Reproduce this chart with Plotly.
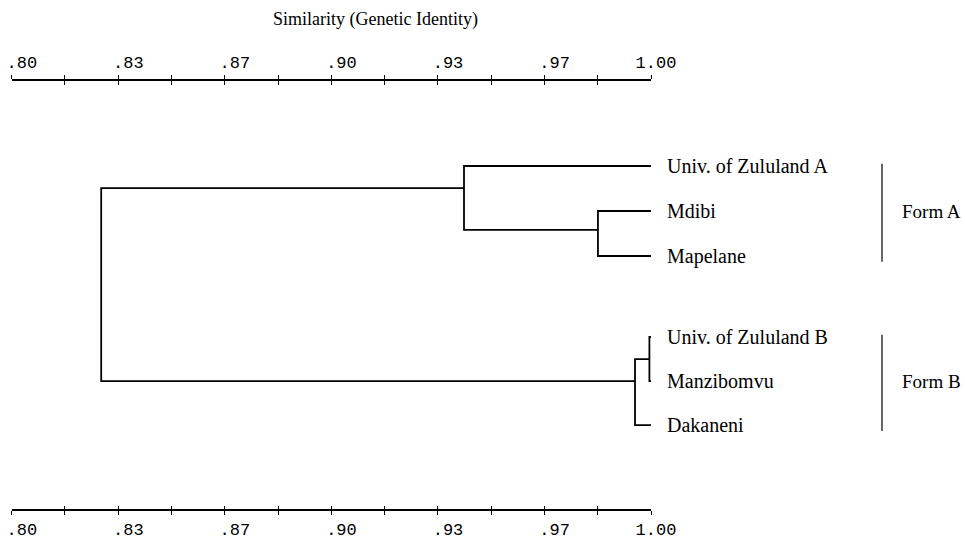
import plotly.graph_objects as go

# ---------------- data ----------------
leaf_names = ["Univ. of Zululand A", "Mdibi", "Mapelane",
              "Univ. of Zululand B", "Manzibomvu", "Dakaneni"]
leaf_rows = [0.0, 1.0, 2.0, 3.8, 4.78, 5.76]      # vertical order of leaves
leaf_sim = 1.00

# merges: (child1, child2, similarity, row where the branch joins its parent)
# children: ints < 6 are leaves, "nK" refers to merge K
merges = [
    (1, 2, 0.9834, 1.42),          # n0 Mdibi + Mapelane
    (0, "n0", 0.9415, 0.49),       # n1 Form A
    (3, 4, 0.9995, 4.29),          # n2 Univ B + Manzibomvu
    ("n2", 5, 0.9950, 4.78),       # n3 Form B
    ("n1", "n3", 0.8280, 3.0),     # n4 root
]

groups = ["Form A", "Form B"]
group_members = [[0, 1, 2], [3, 4, 5]]

tick_vals = [0.80 + i / 60 for i in range(13)]
tick_labels = [".80", "", ".83", "", ".87", "", ".90", "", ".93", "", ".97", "", "1.00"]
axis_title = "Similarity (Genetic Identity)"

# ---------------- figure ----------------
W, H = 965, 539
px0, px1 = 11.7, 651.0          # pixel positions of .80 and 1.00
row_px0, row_step = 166.0, 45.0  # pixel of row 0, pixels per row


def pos(c):
    if isinstance(c, int):
        return leaf_sim, leaf_rows[c]
    k = int(c[1:])
    return merges[k][2], merges[k][3]


fig = go.Figure()
for c1, c2, s, _ in merges:
    x1, y1 = pos(c1)
    x2, y2 = pos(c2)
    fig.add_trace(go.Scatter(
        x=[x1, s, s, x2], y=[y1, y1, y2, y2], mode="lines",
        line=dict(color="black", width=1.8), hoverinfo="skip", showlegend=False,
        xaxis="x", yaxis="y"))

# invisible traces so overlay axes get drawn
for ax in ["x2", "x3", "x4"]:
    fig.add_trace(go.Scatter(x=[0.80, 1.00], y=[None, None], mode="lines",
                             xaxis=ax, yaxis="y", showlegend=False, hoverinfo="skip"))

serif = "Liberation Serif"
mono = "Liberation Mono"

ann = []
for name, r in zip(leaf_names, leaf_rows):
    ann.append(dict(x=leaf_sim, y=r, xref="x", yref="y", text=name, showarrow=False,
                    xanchor="left", yanchor="middle", xshift=14,
                    font=dict(family=serif, size=20, color="black")))

shapes = []
for g, mem in zip(groups, group_members):
    rows = [leaf_rows[i] for i in mem]
    top, bot = min(rows) - 0.05, max(rows) + 0.13
    shapes.append(dict(type="line", xref="paper", yref="y", x0=882 / W, x1=882 / W,
                       y0=top, y1=bot, line=dict(color="black", width=1.2)))
    ann.append(dict(x=900 / W, y=sum(rows) / len(rows), xref="paper", yref="y", text=g,
                    showarrow=False, xanchor="left", yanchor="middle",
                    font=dict(family=serif, size=19, color="black")))

ann.append(dict(x=375 / W, y=1 - 20 / H, xref="paper", yref="paper", text=axis_title,
                showarrow=False, xanchor="center", yanchor="middle",
                font=dict(family=serif, size=18, color="black")))

tick_text = [("\u00a0" + t) if len(t) == 3 else t for t in tick_labels]
dom = [px0 / W, px1 / W]
bottom_pos = 1 - 510 / H
top_pos = 1 - 80 / H

common = dict(range=[0.80, 1.00], domain=dom, tickvals=tick_vals, showgrid=False,
              zeroline=False, ticklen=4, tickwidth=1.2, tickcolor="black",
              anchor="free", fixedrange=True, automargin=False,
              ticklabeloverflow="allow")

fig.update_layout(
    width=W, height=H, margin=dict(l=0, r=0, t=0, b=0, autoexpand=False),
    plot_bgcolor="white", paper_bgcolor="white",
    xaxis=dict(**common, position=bottom_pos, side="bottom", ticks="outside",
               showline=True, linecolor="black", linewidth=1.8,
               ticktext=tick_text, ticklabelshift=5,
               tickfont=dict(family=mono, size=17, color="black")),
    xaxis3=dict(**common, position=bottom_pos, side="bottom", ticks="inside",
                overlaying="x", showline=False, showticklabels=False),
    xaxis2=dict(**common, position=top_pos, side="top", ticks="outside",
                overlaying="x", showline=True, linecolor="black", linewidth=1.5,
                ticktext=tick_text, ticklabelshift=5,
                tickfont=dict(family=mono, size=17, color="black")),
    xaxis4=dict(**common, position=top_pos, side="top", ticks="inside",
                overlaying="x", showline=False, showticklabels=False),
    yaxis=dict(range=[(H - row_px0) / row_step, -row_px0 / row_step], domain=[0, 1],
               visible=False, fixedrange=True, automargin=False),
    annotations=ann, shapes=shapes,
)

fig.write_html("out.html", config={"displayModeBar": False},
               post_script="document.body.style.margin='0';document.body.style.overflow='hidden';")
